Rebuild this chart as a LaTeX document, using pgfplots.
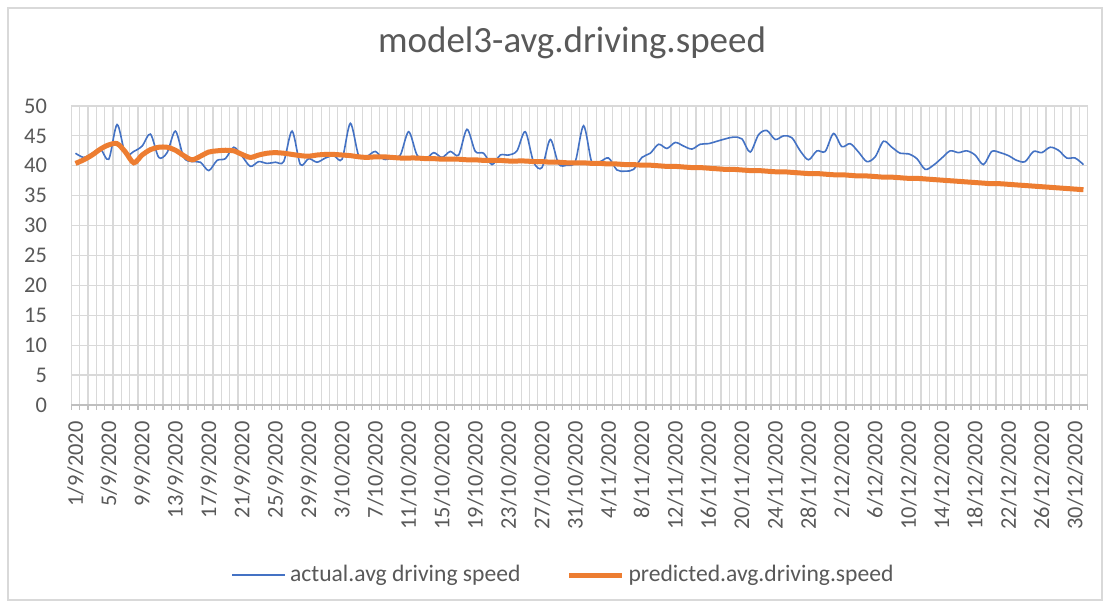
\documentclass[border=0pt]{standalone}
\usepackage{pgfplots}
\pgfplotsset{compat=1.18}
\usepackage{pgfplotstable}
\usepackage{fontspec}
\setmainfont{Carlito}
\definecolor{txt}{RGB}{89,89,89}
\definecolor{grd}{RGB}{217,217,217}
\definecolor{axl}{RGB}{191,191,191}
\definecolor{blueA}{RGB}{68,114,196}
\definecolor{orangeP}{RGB}{237,125,49}

\pgfplotstableread{
i actual pred
0 42.1 40.4
1 41.4 41.0
2 42.1 41.8
3 42.8 42.8
4 41.1 43.5
5 46.9 43.7
6 41.9 42.3
7 42.4 40.5
8 43.3 41.8
9 45.3 42.7
10 41.4 43.1
11 42.2 43.1
12 45.8 42.6
13 41.4 41.7
14 40.7 41.0
15 40.6 41.6
16 39.2 42.3
17 40.9 42.5
18 41.2 42.6
19 43.1 42.5
20 41.6 41.9
21 39.9 41.4
22 40.7 41.8
23 40.4 42.1
24 40.6 42.2
25 40.7 42.1
26 45.8 41.9
27 40.2 41.7
28 41.2 41.6
29 40.6 41.8
30 41.3 41.9
31 41.7 41.9
32 41.1 41.8
33 47.1 41.7
34 41.7 41.5
35 41.6 41.4
36 42.4 41.5
37 41.1 41.5
38 41.3 41.4
39 41.8 41.3
40 45.7 41.3
41 41.8 41.3
42 41.1 41.2
43 42.2 41.2
44 41.4 41.1
45 42.4 41.1
46 41.8 41.1
47 46.1 41.0
48 42.4 41.0
49 42.1 40.9
50 40.2 40.9
51 41.8 40.9
52 41.8 40.8
53 42.5 40.8
54 45.7 40.8
55 40.6 40.7
56 39.7 40.7
57 44.4 40.6
58 40.3 40.6
59 40.1 40.5
60 40.7 40.5
61 46.7 40.5
62 40.5 40.4
63 40.7 40.4
64 41.3 40.3
65 39.3 40.3
66 39.1 40.2
67 39.4 40.2
68 41.4 40.1
69 42.1 40.1
70 43.6 40.0
71 42.9 39.9
72 43.9 39.9
73 43.3 39.8
74 42.8 39.7
75 43.6 39.7
76 43.7 39.6
77 44.1 39.5
78 44.5 39.4
79 44.8 39.4
80 44.5 39.3
81 42.3 39.2
82 45.2 39.2
83 45.9 39.1
84 44.4 39.0
85 45.0 39.0
86 44.7 38.9
87 42.5 38.8
88 41.0 38.7
89 42.5 38.7
90 42.4 38.6
91 45.4 38.5
92 43.2 38.5
93 43.7 38.4
94 42.3 38.3
95 40.7 38.3
96 41.5 38.2
97 44.1 38.1
98 43.1 38.1
99 42.1 38.0
100 42.0 37.9
101 41.2 37.9
102 39.4 37.8
103 40.1 37.7
104 41.3 37.6
105 42.5 37.5
106 42.2 37.4
107 42.5 37.3
108 41.8 37.2
109 40.2 37.1
110 42.4 37.0
111 42.2 37.0
112 41.7 36.9
113 40.9 36.8
114 40.7 36.7
115 42.4 36.6
116 42.2 36.5
117 43.1 36.4
118 42.6 36.3
119 41.3 36.2
120 41.3 36.1
121 40.2 36.0
}\data

\begin{document}
\begin{tikzpicture}
\useasboundingbox (0,0) rectangle (555pt,304pt);
\fill[white] (0,0) rectangle (555pt,304pt);
\draw[grd, line width=0.6pt] (4pt,4pt) rectangle (551pt,300pt);
\begin{axis}[
  at={(35.65pt,101.5pt)}, anchor=south west,
  scale only axis, width=508.15pt, height=149.5pt,
  xmin=-0.5, xmax=121.5, ymin=0, ymax=50,
  ytick={0,5,...,50},
  xtick={0,4,...,120},
  xticklabels={1/9/2020,5/9/2020,9/9/2020,13/9/2020,17/9/2020,21/9/2020,25/9/2020,29/9/2020,3/10/2020,7/10/2020,11/10/2020,15/10/2020,19/10/2020,23/10/2020,27/10/2020,31/10/2020,4/11/2020,8/11/2020,12/11/2020,16/11/2020,20/11/2020,24/11/2020,28/11/2020,2/12/2020,6/12/2020,10/12/2020,14/12/2020,18/12/2020,22/12/2020,26/12/2020,30/12/2020},
  minor xtick={-0.5,0.5,...,121.5},
  xminorgrids=true, ymajorgrids=true, xmajorgrids=false,
  major grid style={grd, line width=0.6pt},
  minor grid style={grd, line width=0.6pt},
  axis x line*=bottom, axis y line*=left,
  x axis line style={-, draw=axl, line width=0.6pt},
  y axis line style={draw=none},
  major tick length=0pt, minor tick length=2.5pt,
  tick align=outside,
  minor tick style={draw=axl, line width=0.6pt},
  /pgf/number format/assume math mode=true,
  tick label style={font=\fontsize{11.2pt}{13pt}\selectfont, text=txt},
  yticklabel style={anchor=east, inner sep=0pt, xshift=-12pt},
  xticklabel style={yshift=-8pt, rotate=90, anchor=east, inner sep=0pt},
  title={model3-avg.driving.speed},
  title style={at={(0.4927,1.1706)}, anchor=center, font=\fontsize{18.5pt}{22pt}\selectfont, text=txt},
  legend style={at={(0.4853,-0.5686)}, anchor=center, draw=none, fill=none,
    font=\fontsize{11.8pt}{14pt}\selectfont, text=txt,
    /tikz/every even column/.append style={column sep=21pt}},
  legend columns=2,
  legend image code/.code={\draw[#1] (0pt,0pt) -- (26.5pt,0pt);},
]
\addplot[blueA, line width=0.8pt, smooth, tension=0.5, mark=none] table[x=i,y=actual]{\data};
\addplot[orangeP, line width=2.5pt, smooth, mark=none] table[x=i,y=pred]{\data};
\legend{actual.avg driving speed, predicted.avg.driving.speed}
\end{axis}
\end{tikzpicture}
\end{document}
